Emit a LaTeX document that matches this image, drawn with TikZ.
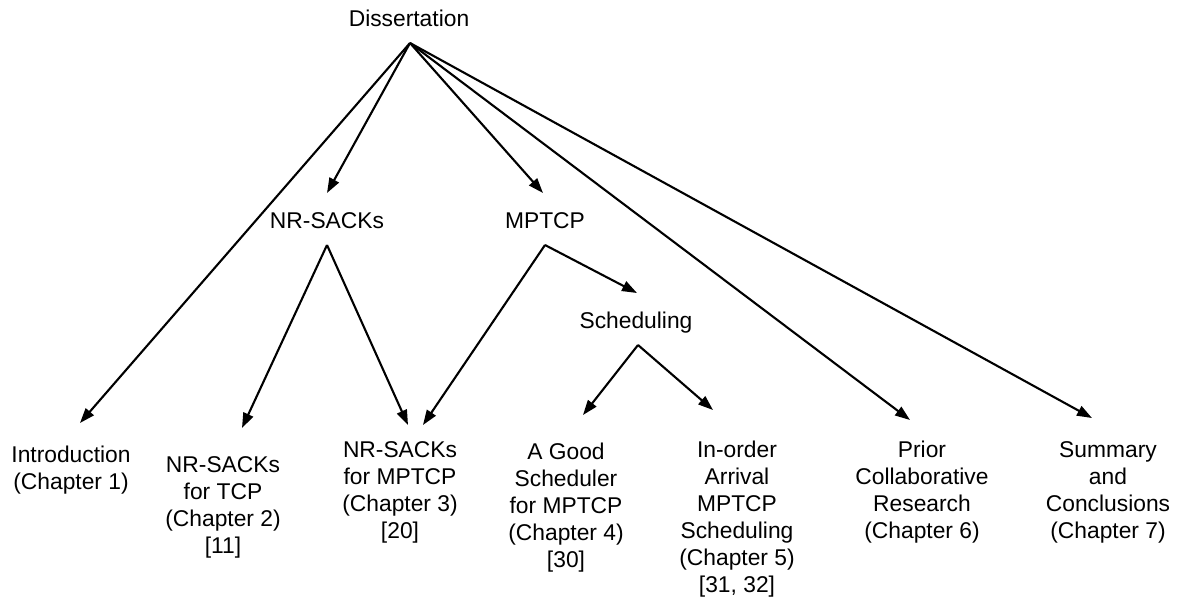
\documentclass[tikz,border=0pt]{standalone}
\usepackage{fontspec}
\setmainfont{Liberation Sans}
\usetikzlibrary{arrows.meta}
\begin{document}
\begin{tikzpicture}[x=1pt,y=-1pt,
  every node/.style={inner sep=0pt,outer sep=0pt,font=\fontsize{22.8}{27}\selectfont},
  label/.style={anchor=base,align=center},
  leaf/.style={anchor=north,align=center},
  link/.style={line width=2.1pt,-{Triangle[length=15pt,width=10.5pt]}}]
\useasboundingbox (0,0) rectangle (1182,600);

% inner topics
\node[label] (diss) at (409,26) {Dissertation};
\node[label] (nrs)  at (327,228) {NR-SACKs};
\node[label] (mp)   at (545,228) {MPTCP};
\node[label] (sch)  at (636,328) {Scheduling};

% chapters
\node[leaf] (c1) at (71,444)  {\strut Introduction\\(Chapter 1)};
\node[leaf] (c2) at (223,454) {\strut NR-SACKs\\for TCP\\(Chapter 2)\\{}[11]};
\node[leaf] (c3) at (400,439) {\strut NR-SACKs\\for MPTCP\\(Chapter 3)\\{}[20]};
\node[leaf] (c4) at (566,441) {\strut A Good\\Scheduler\\for MPTCP\\(Chapter 4)\\{}[30]};
\node[leaf] (c5) at (737,439) {\strut In-order\\Arrival\\MPTCP\\Scheduling\\(Chapter 5)\\{}[31, 32]};
\node[leaf] (c6) at (922,439) {\strut Prior\\Collaborative\\Research\\(Chapter 6)};
\node[leaf] (c7) at (1108,439) {\strut Summary\\and\\Conclusions\\(Chapter 7)};

% where the connectors start and end
\coordinate (dTop)  at (410,43);
\coordinate (nTop)  at (327,245);
\coordinate (mTop)  at (545,245);
\coordinate (sTop)  at (638,345);
\coordinate (tNrs)  at (327,193);
\coordinate (tMp)   at (543,193);
\coordinate (tSch)  at (637,293);
\coordinate (tC1)   at (80,423);
\coordinate (tC2)   at (242,428);
\coordinate (tC3a)  at (408,425);
\coordinate (tC3b)  at (423,425);
\coordinate (tC4)   at (583,415);
\coordinate (tC5)   at (713,410);
\coordinate (tC6)   at (910,420);
\coordinate (tC7)   at (1092,418);

\draw[link] (dTop) -- (tC1);
\draw[link] (dTop) -- (tNrs);
\draw[link] (dTop) -- (tMp);
\draw[link] (dTop) -- (tC6);
\draw[link] (dTop) -- (tC7);
\draw[link] (nTop) -- (tC2);
\draw[link] (nTop) -- (tC3a);
\draw[link] (mTop) -- (tC3b);
\draw[link] (mTop) -- (tSch);
\draw[link] (sTop) -- (tC4);
\draw[link] (sTop) -- (tC5);
\end{tikzpicture}
\end{document}
